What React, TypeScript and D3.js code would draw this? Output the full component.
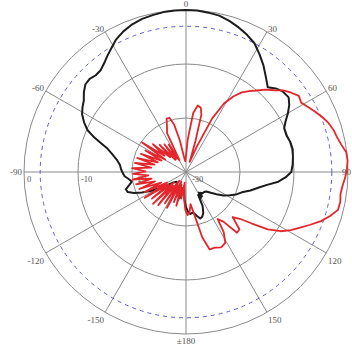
import { useEffect, useRef } from "react";
import * as d3 from "d3";

// angle (deg, clockwise from top), gain (dB)
const blackPattern: [number, number][] = [
  [0, 0], [4, 0], [8, -0.2], [12, -0.4], [16, -0.9], [20, -1.5], [24, -2.2], [28, -3.0],
  [32, -4.3], [36, -5.6], [40, -7.0], [44, -8.2], [47, -7.3], [50, -6.7], [54, -6.5],
  [57, -7.2], [60, -8.2], [63, -9.3], [66, -10.1], [70, -10.2], [74, -9.9], [78, -9.8],
  [82, -10], [86, -10.2], [90, -10.5], [93, -11.5], [96, -12.8], [99, -14.8], [102, -16.2],
  [106, -17.6], [110, -19], [114, -19.8], [118, -20.8], [122, -21.8], [126, -23], [130, -24],
  [134, -24.8], [138, -25], [142, -25], [145, -25.3], [147, -24.6], [148, -25.5], [150, -24.5],
  [152, -25.2], [154, -23], [157, -21.8], [160, -21.2], [163, -21], [166, -21.6], [170, -22.4],
  [174, -22.2], [177, -22.6], [180, -23.5], [183, -24.8], [186, -26.8], [190, -25.8], [194, -25],
  [200, -25.5], [208, -26.5], [216, -27.2], [224, -27.5], [230, -27], [234, -26], [238, -24.5],
  [242, -22.5], [245, -21], [248, -19.6], [251, -18.6], [254, -18.4], [257, -19.2], [260, -19.8],
  [263, -19.3], [266, -18.6], [269, -18.3], [272, -18], [276, -17.7], [280, -17], [284, -15.8],
  [287, -14.6], [289, -13.2], [291, -11.6], [293, -10.2], [296, -9], [299, -8], [302, -7.4],
  [305, -6.9], [308, -6.0], [311, -5.3], [314, -5.2], [317, -5.5], [320, -5.4], [323, -4.8],
  [326, -4.0], [329, -3.2], [332, -2.3], [336, -1.5], [340, -0.9], [344, -0.5], [348, -0.3],
  [352, -0.1], [356, 0],
];

const redPattern: [number, number][] = [
  [0, -27], [3, -24], [7, -19], [10, -17.5], [13, -17.8], [15, -19], [17, -24], [20, -28],
  [23, -25], [26, -19], [29, -15.5], [32, -13.5], [35, -12], [38, -11], [41, -10], [44, -8.8],
  [47, -7.8], [50, -6.5], [53, -5.6], [56, -4.8], [59, -5.1], [62, -4.4], [65, -3.6], [68, -2.8],
  [71, -2.1], [74, -1.6], [77, -1.3], [80, -0.8], [83, -0.1], [86, 0], [89, -0.2], [92, -0.5],
  [95, -0.9], [98, -1.1], [101, -0.9], [104, -1.0], [107, -2.1], [110, -3.4], [113, -5],
  [116, -6.5], [119, -7.8], [122, -9.3], [125, -11.5], [128, -14.5], [131, -16.8], [134, -18],
  [137, -15.5], [140, -15.3], [143, -18.5], [146, -19.5], [148, -16.8], [151, -15], [155, -14.6],
  [159, -15], [163, -15], [166, -17.5], [169, -22], [172, -24], [175, -22.5], [178, -22],
  [181, -23], [184, -25], [187, -28], [190, -25], [193, -27], [196, -23.5], [199, -27.5],
  [202, -24], [205, -28], [208, -22.5], [211, -27], [214, -23], [217, -28], [220, -22],
  [223, -26.5], [226, -21.5], [229, -27], [232, -22], [235, -26], [238, -21], [241, -26],
  [244, -21.5], [247, -25], [250, -20.8], [253, -24], [256, -20.5], [259, -23.5], [262, -20],
  [265, -23], [268, -20.2], [271, -22.5], [274, -20], [277, -23.5], [280, -20.4], [283, -24],
  [286, -20.6], [289, -24.5], [292, -21], [295, -25], [298, -21.5], [301, -25.5], [304, -20.2],
  [307, -25], [310, -22], [313, -26], [316, -23], [319, -27], [322, -23.5], [325, -27],
  [328, -24], [331, -27.5], [334, -22], [337, -21], [340, -19.5], [343, -19.5], [346, -21],
  [349, -24], [352, -27], [356, -28],
];

const ringValues = [-20, -10, 0];
const ringLabels = ["0", "-10", "-20", "-30"];
const ringLabelValues = [0, -10, -20, -30];
const spokeAngles = d3.range(0, 360, 30);
const angleLabels = ["0", "30", "60", "90", "120", "150", "±180", "-150", "-120", "-90", "-60", "-30"];
const halfPowerLevel = -3;

export default function App() {
  const svgRef = useRef<SVGSVGElement>(null);

  useEffect(() => {
    if (!svgRef.current) return;
    const svg = d3.select(svgRef.current);
    svg.selectAll("*").remove();

    const width = 352;
    const height = 345;
    const cx = 186;
    const cy = 172;
    const R = 162;

    const r = d3.scaleLinear().domain([-30, 0]).range([0, R]);
    const rad = (deg: number) => (deg * Math.PI) / 180;

    svg.attr("width", width).attr("height", height);
    const g = svg.append("g").attr("transform", `translate(${cx},${cy})`);

    // Grid rings
    g.selectAll("circle.ring")
      .data(ringValues)
      .join("circle")
      .attr("class", "ring")
      .attr("r", d => r(d))
      .attr("fill", "none")
      .attr("stroke", "#8a8a8a")
      .attr("stroke-width", 1);

    // Spokes
    g.selectAll("line.spoke")
      .data(spokeAngles)
      .join("line")
      .attr("class", "spoke")
      .attr("x1", 0).attr("y1", 0)
      .attr("x2", d => R * Math.sin(rad(d)))
      .attr("y2", d => -R * Math.cos(rad(d)))
      .attr("stroke", "#8a8a8a")
      .attr("stroke-width", 1);

    // -3 dB circle
    g.append("circle")
      .attr("r", r(halfPowerLevel))
      .attr("fill", "none")
      .attr("stroke", "#5c5cd6")
      .attr("stroke-width", 1)
      .attr("stroke-dasharray", "4,4");

    // Angle labels (90 is squeezed in against the right edge)
    g.selectAll("text.angle")
      .data(spokeAngles)
      .join("text")
      .attr("class", "angle")
      .attr("font-family", "'Liberation Serif', serif")
      .attr("font-size", "9px")
      .attr("fill", "#555")
      .attr("text-anchor", d => {
        if (d === 90) return "end";
        const s = Math.sin(rad(d));
        return s > 0.1 ? "start" : s < -0.1 ? "end" : "middle";
      })
      .attr("x", d => (d === 90 ? width - cx - 1 : (R + 2) * Math.sin(rad(d))))
      .attr("y", d => {
        const c = Math.cos(rad(d));
        const base = -R * c;
        if (c > 0.99) return base - 3;
        if (c > 0.1) return base + 0;
        if (c < -0.99) return base + 10;
        if (c < -0.1) return base + 11;
        return base + 3;
      })
      .text((_, i) => angleLabels[i]);

    // Radial (dB) labels along the left axis
    g.selectAll("text.db")
      .data(ringLabelValues)
      .join("text")
      .attr("class", "db")
      .attr("font-family", "'Liberation Serif', serif")
      .attr("font-size", "8.5px")
      .attr("fill", "#555")
      .attr("x", d => (d === -30 ? 6 : -r(d) + 3))
      .attr("y", 10)
      .text((_, i) => ringLabels[i]);

    const line = d3.lineRadial<[number, number]>()
      .angle(d => rad(d[0]))
      .radius(d => r(Math.max(-30, d[1])))
      .curve(d3.curveLinearClosed);

    g.append("path")
      .datum(blackPattern)
      .attr("fill", "none")
      .attr("stroke", "#1c1c1c")
      .attr("stroke-width", 2)
      .attr("stroke-linejoin", "round")
      .attr("d", line);

    g.append("path")
      .datum(redPattern)
      .attr("fill", "none")
      .attr("stroke", "#e3262b")
      .attr("stroke-width", 1.8)
      .attr("stroke-linejoin", "round")
      .attr("d", line);
  }, []);

  return (
    <div style={{ position: "fixed", left: 0, top: 0, width: 352, height: 345, background: "#fff" }}>
      <svg ref={svgRef} style={{ display: "block" }}></svg>
    </div>
  );
}
